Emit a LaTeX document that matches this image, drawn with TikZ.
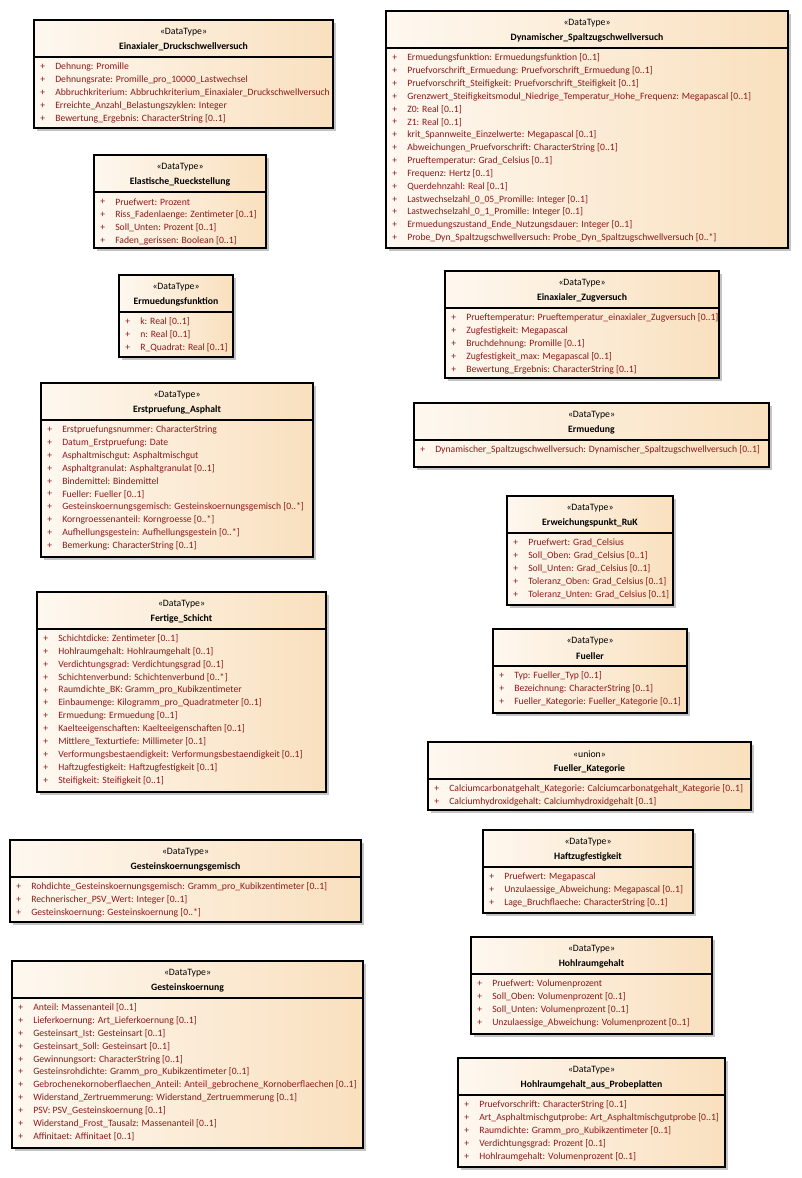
\documentclass[tikz,border=0pt]{standalone}
\usepackage{fontspec}
\setmainfont{Carlito}
\usepackage{tikz}
\usetikzlibrary{calc}
\definecolor{attrc}{HTML}{8B1A1A}
\definecolor{boxl}{HTML}{FEF8F0}
\definecolor{boxr}{HTML}{F9E0BE}
\definecolor{shadc}{HTML}{C4C4C4}
\tikzset{
  cls/.style={draw=black,line width=0.9pt,left color=boxl,right color=boxr},
  sep/.style={draw=black,line width=0.9pt},
  head/.style={inner sep=0pt,font=\fontsize{7.3}{9}\selectfont},
  attr/.style={anchor=west,inner sep=0pt,text=attrc,font=\fontsize{7.25}{9}\selectfont}
}
% #1 id, #2 left, #3 top, #4 right, #5 bottom, #6 stereotype, #7 name, #8 attributes
\newcommand{\dtype}[8]{%
  \fill[shadc] ({#2+3},{#3+3}) rectangle ({#4+3},{#5+3});
  \draw[cls] (#2,#3) coordinate (#1-nw) rectangle (#4,#5) coordinate (#1-se);
  \draw[sep] (#2,{#3+37}) coordinate (#1-sl) -- (#4,{#3+37}) coordinate (#1-sr);
  \node[head] (#1-st) at ({(#2+#4)/2},{#3+12}) {«#6»};
  \node[head,font=\fontsize{7.3}{9}\selectfont\bfseries] (#1-ti) at ({(#2+#4)/2},{#3+27}) {#7};
  \foreach \fld [count=\i from 0] in {#8}{
    \node[attr] (#1-p\i) at ({#2+6},{#3+47+\i*12.85}) {+};
    \node[attr] (#1-a\i) at ({#2+21},{#3+47+\i*12.85}) {\fld};
  }%
}
\begin{document}
\begin{tikzpicture}[x=0.75pt,y=-0.75pt]
\fill[white] (0,0) rectangle (802,1178);
\useasboundingbox (0,0) rectangle (802,1178);
% left column
\dtype{edv}{34}{20}{333}{128}{DataType}{Einaxialer\_Druckschwellversuch}{{Dehnung: Promille},{Dehnungsrate: Promille\_pro\_10000\_Lastwechsel},{Abbruchkriterium: Abbruchkriterium\_Einaxialer\_Druckschwellversuch},{Erreichte\_Anzahl\_Belastungszyklen: Integer},{Bewertung\_Ergebnis: CharacterString [0..1]}}
\dtype{elr}{94}{155}{266}{248}{DataType}{Elastische\_Rueckstellung}{{Pruefwert: Prozent},{Riss\_Fadenlaenge: Zentimeter [0..1]},{Soll\_Unten: Prozent [0..1]},{Faden\_gerissen: Boolean [0..1]}}
\dtype{emf}{119}{275}{233}{357}{DataType}{Ermuedungsfunktion}{{k: Real [0..1]},{n: Real [0..1]},{R\_Quadrat: Real [0..1]}}
\dtype{eas}{41}{383}{313}{557}{DataType}{Erstpruefung\_Asphalt}{{Erstpruefungsnummer: CharacterString},{Datum\_Erstpruefung: Date},{Asphaltmischgut: Asphaltmischgut},{Asphaltgranulat: Asphaltgranulat [0..1]},{Bindemittel: Bindemittel},{Fueller: Fueller [0..1]},{Gesteinskoernungsgemisch: Gesteinskoernungsgemisch [0..*]},{Korngroessenanteil: Korngroesse [0..*]},{Aufhellungsgestein: Aufhellungsgestein [0..*]},{Bemerkung: CharacterString [0..1]}}
\dtype{fsc}{37}{592}{326}{792}{DataType}{Fertige\_Schicht}{{Schichtdicke: Zentimeter [0..1]},{Hohlraumgehalt: Hohlraumgehalt [0..1]},{Verdichtungsgrad: Verdichtungsgrad [0..1]},{Schichtenverbund: Schichtenverbund [0..*]},{Raumdichte\_BK: Gramm\_pro\_Kubikzentimeter},{Einbaumenge: Kilogramm\_pro\_Quadratmeter [0..1]},{Ermuedung: Ermuedung [0..1]},{Kaelteeigenschaften: Kaelteeigenschaften [0..1]},{Mittlere\_Texturtiefe: Millimeter [0..1]},{Verformungsbestaendigkeit: Verformungsbestaendigkeit [0..1]},{Haftzugfestigkeit: Haftzugfestigkeit [0..1]},{Steifigkeit: Steifigkeit [0..1]}}
\dtype{gkg}{10}{840}{361}{922}{DataType}{Gesteinskoernungsgemisch}{{Rohdichte\_Gesteinskoernungsgemisch: Gramm\_pro\_Kubikzentimeter [0..1]},{Rechnerischer\_PSV\_Wert: Integer [0..1]},{Gesteinskoernung: Gesteinskoernung [0..*]}}
\dtype{gkn}{12}{961}{363}{1148}{DataType}{Gesteinskoernung}{{Anteil: Massenanteil [0..1]},{Lieferkoernung: Art\_Lieferkoernung [0..1]},{Gesteinsart\_Ist: Gesteinsart [0..1]},{Gesteinsart\_Soll: Gesteinsart [0..1]},{Gewinnungsort: CharacterString [0..1]},{Gesteinsrohdichte: Gramm\_pro\_Kubikzentimeter [0..1]},{Gebrochenekornoberflaechen\_Anteil: Anteil\_gebrochene\_Kornoberflaechen [0..1]},{Widerstand\_Zertruemmerung: Widerstand\_Zertruemmerung [0..1]},{PSV: PSV\_Gesteinskoernung [0..1]},{Widerstand\_Frost\_Tausalz: Massenanteil [0..1]},{Affinitaet: Affinitaet [0..1]}}
% right column
\dtype{dsv}{386}{11}{788}{248}{DataType}{Dynamischer\_Spaltzugschwellversuch}{{Ermuedungsfunktion: Ermuedungsfunktion [0..1]},{Pruefvorschrift\_Ermuedung: Pruefvorschrift\_Ermuedung [0..1]},{Pruefvorschrift\_Steifigkeit: Pruefvorschrift\_Steifigkeit [0..1]},{Grenzwert\_Steifigkeitsmodul\_Niedrige\_Temperatur\_Hohe\_Frequenz: Megapascal [0..1]},{Z0: Real [0..1]},{Z1: Real [0..1]},{krit\_Spannweite\_Einzelwerte: Megapascal [0..1]},{Abweichungen\_Pruefvorschrift: CharacterString [0..1]},{Prueftemperatur: Grad\_Celsius [0..1]},{Frequenz: Hertz [0..1]},{Querdehnzahl: Real [0..1]},{Lastwechselzahl\_0\_05\_Promille: Integer [0..1]},{Lastwechselzahl\_0\_1\_Promille: Integer [0..1]},{Ermuedungszustand\_Ende\_Nutzungsdauer: Integer [0..1]},{Probe\_Dyn\_Spaltzugschwellversuch: Probe\_Dyn\_Spaltzugschwellversuch [0..*]}}
\dtype{ezv}{445}{271}{719}{378}{DataType}{Einaxialer\_Zugversuch}{{Prueftemperatur: Prueftemperatur\_einaxialer\_Zugversuch [0..1]},{Zugfestigkeit: Megapascal},{Bruchdehnung: Promille [0..1]},{Zugfestigkeit\_max: Megapascal [0..1]},{Bewertung\_Ergebnis: CharacterString [0..1]}}
\dtype{erm}{414}{403}{769}{467}{DataType}{Ermuedung}{{Dynamischer\_Spaltzugschwellversuch: Dynamischer\_Spaltzugschwellversuch [0..1]}}
\dtype{ewp}{507}{496}{673}{605}{DataType}{Erweichungspunkt\_RuK}{{Pruefwert: Grad\_Celsius},{Soll\_Oben: Grad\_Celsius [0..1]},{Soll\_Unten: Grad\_Celsius [0..1]},{Toleranz\_Oben: Grad\_Celsius [0..1]},{Toleranz\_Unten: Grad\_Celsius [0..1]}}
\dtype{fue}{493}{629}{687}{713}{DataType}{Fueller}{{Typ: Fueller\_Typ [0..1]},{Bezeichnung: CharacterString [0..1]},{Fueller\_Kategorie: Fueller\_Kategorie [0..1]}}
\dtype{fuk}{428}{742}{751}{810}{union}{Fueller\_Kategorie}{{Calciumcarbonatgehalt\_Kategorie: Calciumcarbonatgehalt\_Kategorie [0..1]},{Calciumhydroxidgehalt: Calciumhydroxidgehalt [0..1]}}
\dtype{hzf}{483}{830}{693}{913}{DataType}{Haftzugfestigkeit}{{Pruefwert: Megapascal},{Unzulaessige\_Abweichung: Megapascal [0..1]},{Lage\_Bruchflaeche: CharacterString [0..1]}}
\dtype{hrg}{471}{937}{712}{1034}{DataType}{Hohlraumgehalt}{{Pruefwert: Volumenprozent},{Soll\_Oben: Volumenprozent [0..1]},{Soll\_Unten: Volumenprozent [0..1]},{Unzulaessige\_Abweichung: Volumenprozent [0..1]}}
\dtype{hpp}{458}{1058}{725}{1167}{DataType}{Hohlraumgehalt\_aus\_Probeplatten}{{Pruefvorschrift: CharacterString [0..1]},{Art\_Asphaltmischgutprobe: Art\_Asphaltmischgutprobe [0..1]},{Raumdichte: Gramm\_pro\_Kubikzentimeter [0..1]},{Verdichtungsgrad: Prozent [0..1]},{Hohlraumgehalt: Volumenprozent [0..1]}}
\end{tikzpicture}
\end{document}
